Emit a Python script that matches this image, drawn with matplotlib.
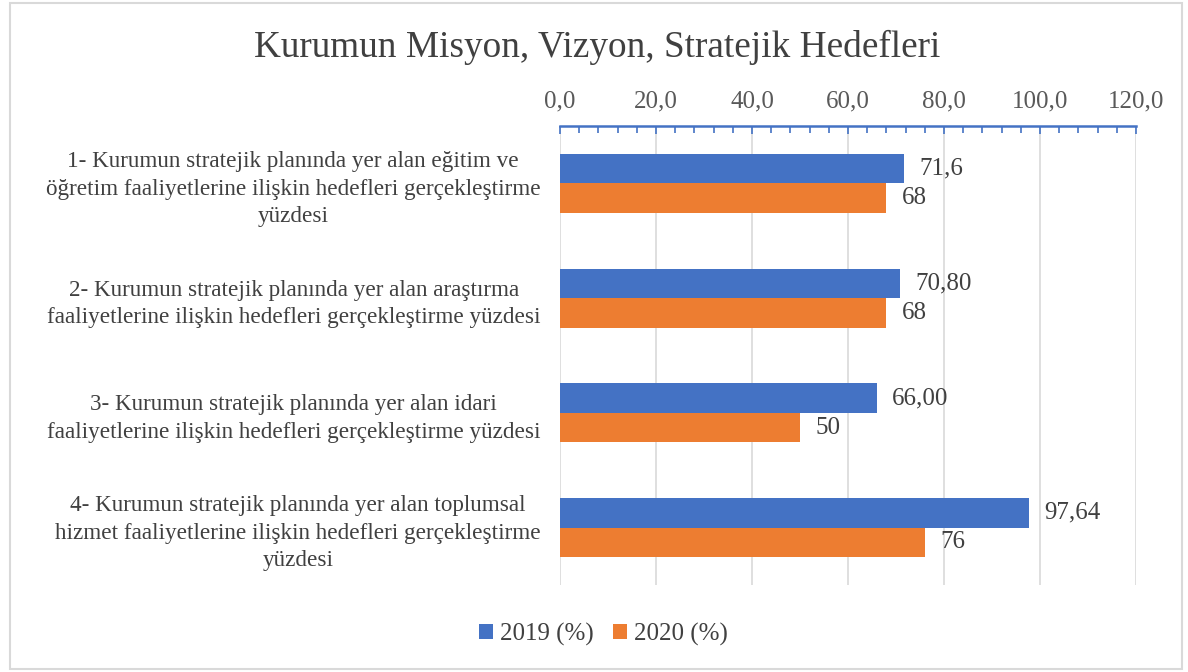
import matplotlib
matplotlib.use("Agg")
import matplotlib.pyplot as plt
from matplotlib.patches import Rectangle
from matplotlib.ticker import MultipleLocator, FuncFormatter

# chart data
categories = [
    "1- Kurumun stratejik planında yer alan eğitim ve\nöğretim faaliyetlerine ilişkin hedefleri gerçekleştirme\nyüzdesi",
    "2- Kurumun stratejik planında yer alan araştırma\nfaaliyetlerine ilişkin hedefleri gerçekleştirme yüzdesi",
    "3- Kurumun stratejik planında yer alan idari\nfaaliyetlerine ilişkin hedefleri gerçekleştirme yüzdesi",
    "4- Kurumun stratejik planında yer alan toplumsal\nhizmet faaliyetlerine ilişkin hedefleri gerçekleştirme\nyüzdesi",
]
values_2019 = [71.6, 70.80, 66.00, 97.64]
values_2020 = [68, 68, 50, 76]
labels_2019 = ["71,6", "70,80", "66,00", "97,64"]
labels_2020 = ["68", "68", "50", "76"]
series_names = ["2019 (%)", "2020 (%)"]
title = "Kurumun Misyon, Vizyon, Stratejik Hedefleri"

plt.rcParams["font.family"] = ["Liberation Serif", "DejaVu Serif"]

BLUE = "#4472C4"
ORANGE = "#ED7D31"
TXT = "#404040"
GRAY = "#595959"

fig = plt.figure(figsize=(11.88, 6.72), dpi=100)
ax = fig.add_axes([0.4714, 0.1295, 0.4848, 0.683])

# outer chart border
fig.patches.append(Rectangle((0.008, 0.004), 0.987, 0.992, transform=fig.transFigure,
                             fill=False, edgecolor="#D9D9D9", linewidth=1.5))

pos = list(range(len(categories)))
h = 0.257
b1 = ax.barh([p - h / 2 for p in pos], values_2019, height=h, color=BLUE, label=series_names[0])
b2 = ax.barh([p + h / 2 for p in pos], values_2020, height=h, color=ORANGE, label=series_names[1])
ax.bar_label(b1, labels=labels_2019, padding=11, fontsize=18, color=TXT)
ax.bar_label(b2, labels=labels_2020, padding=11, fontsize=18, color=TXT)

ax.set_ylim(len(categories) - 0.5, -0.5)
ax.set_xlim(0, 120)
ax.set_yticks(pos)
ax.set_yticklabels(categories, fontsize=16.7, color=TXT, multialignment="center",
                   linespacing=1.4)
ax.tick_params(axis="y", length=0, pad=14)

ax.xaxis.tick_top()
ax.xaxis.set_major_locator(MultipleLocator(20))
ax.xaxis.set_minor_locator(MultipleLocator(4))
ax.xaxis.set_major_formatter(FuncFormatter(lambda v, p: f"{v:.1f}".replace(".", ",")))
ax.tick_params(axis="x", which="both", direction="in", color=BLUE, labelsize=18,
               labelcolor=GRAY, pad=10)
ax.tick_params(axis="x", which="major", length=6, width=1.2)
ax.tick_params(axis="x", which="minor", length=5, width=1.2)

ax.grid(axis="x", color="#D9D9D9", linewidth=1.2)
ax.set_axisbelow(True)
for s in ["bottom", "left", "right"]:
    ax.spines[s].set_visible(False)
ax.spines["top"].set_color(BLUE)
ax.spines["top"].set_linewidth(1.8)

fig.text(0.503, 0.93, title, ha="center", va="center", fontsize=26.8, color=TXT)

fig.legend(loc="center", bbox_to_anchor=(0.508, 0.056), ncol=2, frameon=False,
           fontsize=18, handlelength=0.55, handleheight=0.55, handletextpad=0.3,
           columnspacing=0.75, labelcolor=TXT)

fig.savefig("out.png", dpi=100)
